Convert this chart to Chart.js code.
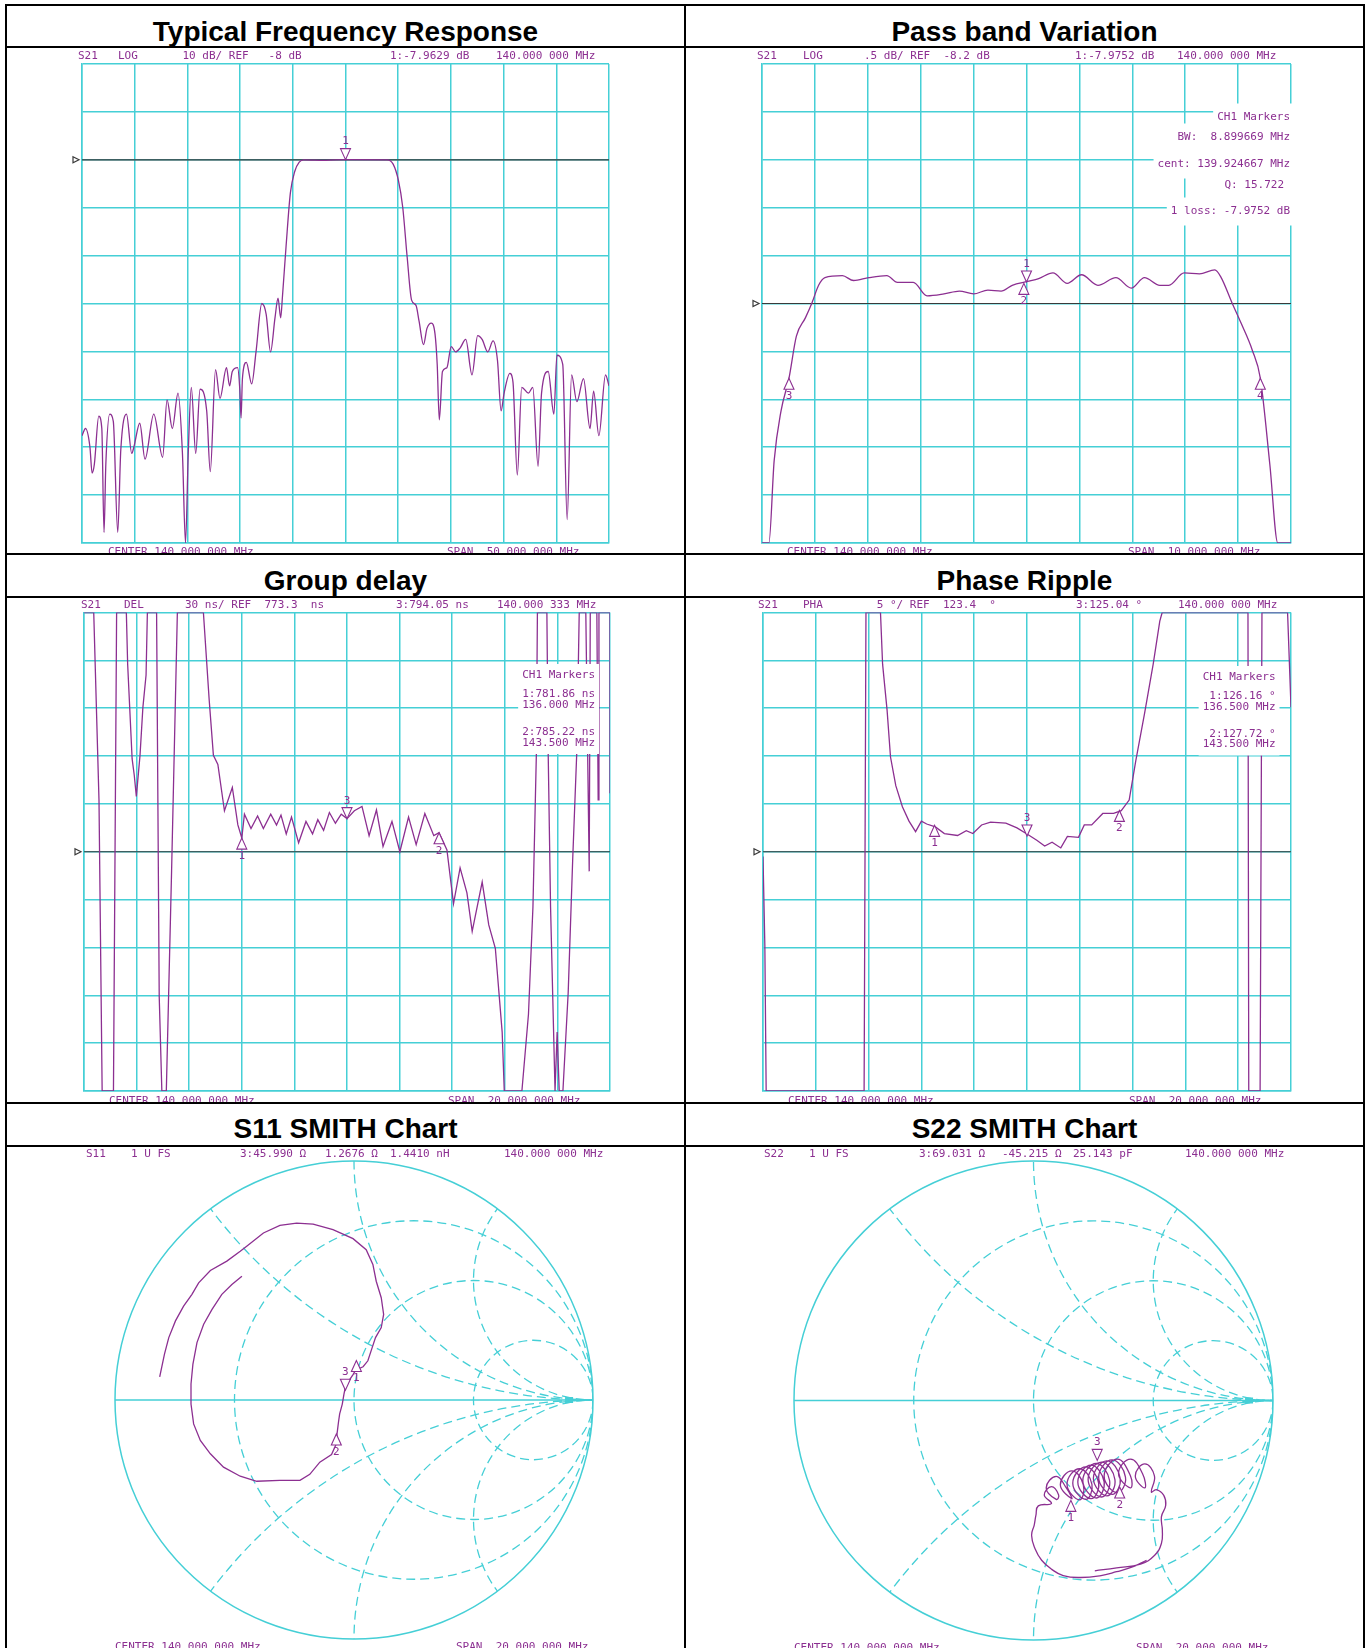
<!DOCTYPE html>
<html>
<head>
<meta charset="utf-8">
<script src="https://cdn.jsdelivr.net/npm/chart.js@4.4.1/dist/chart.umd.min.js"></script>
<style>
  html, body { margin: 0; padding: 0; background: #fff; }
  body { width: 1366px; height: 1648px; position: relative; overflow: hidden; }
  .ln { position: absolute; background: #000; }
  .title { position: absolute; width: 679px; text-align: center; font: bold 28px "Liberation Sans", Arial, sans-serif; line-height: 32px; color: #000; }
  canvas { position: absolute; }
</style>
</head>
<body>
<div class="ln" style="left:5px;top:4px;width:1360px;height:2px"></div>
<div class="ln" style="left:5px;top:46px;width:1360px;height:2px"></div>
<div class="ln" style="left:5px;top:553px;width:1360px;height:2px"></div>
<div class="ln" style="left:5px;top:596px;width:1360px;height:2px"></div>
<div class="ln" style="left:5px;top:1102px;width:1360px;height:2px"></div>
<div class="ln" style="left:5px;top:1145px;width:1360px;height:2px"></div>
<div class="ln" style="left:5px;top:4px;width:2px;height:1644px"></div>
<div class="ln" style="left:684px;top:4px;width:2px;height:1644px"></div>
<div class="ln" style="left:1363px;top:4px;width:2px;height:1644px"></div>

<div class="title" style="left:6px;top:16px">Typical Frequency Response</div>
<div class="title" style="left:685px;top:16px">Pass band Variation</div>
<div class="title" style="left:6px;top:565px">Group delay</div>
<div class="title" style="left:685px;top:565px">Phase Ripple</div>
<div class="title" style="left:6px;top:1113px">S11 SMITH Chart</div>
<div class="title" style="left:685px;top:1113px">S22 SMITH Chart</div>

<canvas id="c1" width="677" height="505" style="left:7px;top:48px"></canvas>
<canvas id="c2" width="677" height="505" style="left:686px;top:48px"></canvas>
<canvas id="c3" width="677" height="504" style="left:7px;top:598px"></canvas>
<canvas id="c4" width="677" height="504" style="left:686px;top:598px"></canvas>
<canvas id="c5" width="677" height="501" style="left:7px;top:1147px"></canvas>
<canvas id="c6" width="677" height="501" style="left:686px;top:1147px"></canvas>

<script>
// S21 wideband response, 115-165 MHz, dB
const respFreq = [115.00,115.33,115.75,115.96,116.17,116.59,116.88,117.09,117.26,117.63,117.97,118.39,118.68,119.22,119.72,119.93,120.48,120.98,121.81,122.65,123.07,123.57,124.11,124.53,124.82,125.08,125.37,125.79,126.20,126.83,127.17,127.67,128.09,128.71,129.00,129.26,129.76,129.97,130.09,130.22,130.59,131.10,131.51,132.06,132.47,132.89,133.31,133.60,133.85,134.02,134.36,134.77,135.19,135.61,136.03,138.10,140.00,143.97,144.52,145.02,145.43,145.85,146.27,146.69,146.98,147.40,147.73,148.15,148.49,148.70,148.90,149.20,149.62,150.03,150.45,150.87,151.41,152.00,152.54,152.96,153.50,154.00,154.42,154.76,155.05,155.59,155.89,156.30,156.72,157.35,157.77,158.27,158.60,159.23,159.77,160.06,160.61,161.03,161.45,161.95,162.58,163.20,163.54,164.04,164.67,165.00];
const respDb = [-65.6,-64.1,-67.9,-73.4,-71.6,-61.5,-64.1,-85.8,-71.6,-61.1,-62.6,-85.8,-68.6,-61.1,-69.3,-67.9,-63.0,-70.5,-61.1,-70.1,-58.1,-64.1,-56.7,-69.3,-88.0,-69.3,-55.5,-69.3,-55.9,-60.4,-73.1,-51.8,-57.8,-51.4,-55.2,-52.2,-51.4,-55.9,-61.9,-53.7,-50.3,-54.8,-48.1,-38.0,-40.2,-48.1,-41.0,-36.9,-41.0,-36.5,-26.1,-14.9,-10.4,-8.5,-8.0,-8.1,-7.96,-8.0,-8.9,-12.3,-17.9,-28.3,-37.3,-38.4,-41.7,-46.6,-43.2,-42.1,-44.3,-50.7,-62.3,-52.2,-51.4,-47.0,-48.1,-47.3,-45.5,-52.9,-44.7,-45.5,-48.1,-45.8,-49.9,-60.4,-56.7,-52.6,-54.4,-73.8,-55.5,-56.7,-55.5,-72.0,-56.7,-52.2,-61.1,-48.8,-50.7,-83.1,-52.9,-58.5,-53.7,-64.1,-56.3,-65.6,-52.9,-55.2];
const respMarkF = [140.0];
const respMarkV = [-7.9629];

// S21 pass band, 135-145 MHz, dB
const passFreq = [135.00,135.13,135.23,135.36,135.51,135.65,135.82,135.94,136.07,136.19,136.52,136.73,137.02,137.36,137.56,137.86,138.12,138.44,138.73,139.00,139.27,139.52,139.73,140.02,140.23,140.50,140.77,141.04,141.35,141.69,141.98,142.23,142.52,142.69,142.98,143.27,143.56,143.67,143.89,144.06,144.27,144.42,144.60,144.75,145.00];
const passDb = [-10.70,-10.70,-9.84,-9.32,-8.98,-8.54,-8.35,-8.20,-8.01,-7.93,-7.91,-7.96,-7.93,-7.91,-7.98,-7.98,-8.12,-8.10,-8.07,-8.10,-8.06,-8.07,-8.01,-7.97,-7.94,-7.88,-7.99,-7.90,-8.01,-7.93,-8.04,-7.93,-8.01,-8.01,-7.88,-7.89,-7.85,-7.92,-8.20,-8.41,-8.69,-8.98,-9.88,-10.70,-10.70];
const passMarkF = [140.0, 139.95, 135.51, 144.42];
const passMarkV = [-7.9752, -7.99, -8.98, -8.98];

// group delay, 130-150 MHz, ns
const delayFreq = [130.00,130.37,130.57,130.69,131.12,131.24,131.61,131.66,131.83,131.91,131.99,132.13,132.24,132.36,132.41,132.76,132.86,132.96,133.13,133.33,133.55,134.54,134.76,134.92,135.09,135.34,135.64,135.85,136.00,136.10,136.35,136.60,136.82,137.10,137.32,137.49,137.69,137.89,138.16,138.44,138.69,138.89,139.11,139.33,139.56,139.78,140.00,140.28,140.57,140.84,141.12,141.37,141.71,142.01,142.34,142.63,142.96,143.30,143.50,143.80,144.05,144.30,144.56,144.76,145.14,145.39,145.64,145.90,145.98,146.65,146.90,147.07,147.20,147.24,147.60,147.65,147.74,147.91,147.99,148.07,148.21,148.41,148.58,148.74,148.83,149.08,149.21,149.25,149.50,149.55,149.58,150.00,150.00];
const delayNs = [923.3,923.3,805.8,623.3,623.3,923.3,923.3,890.8,831.5,821.4,808.0,833.7,864.0,884.1,923.3,923.3,682.6,623.3,623.3,761.0,923.3,923.3,868.4,833.7,828.1,799.0,813.6,790.1,781.9,796.8,787.8,795.7,787.8,796.8,790.1,796.3,784.5,795.0,778.9,792.3,784.5,793.4,786.7,797.9,791.2,796.8,794.1,799.0,801.7,783.4,799.5,776.6,792.3,773.3,795.0,777.8,797.3,783.4,785.2,774.4,740.8,763.2,747.5,723.4,754.3,727.4,712.8,660.2,623.3,623.3,671.4,738.6,834.4,923.3,923.3,834.9,738.6,623.3,660.2,623.3,623.3,684.9,767.7,837.1,923.3,923.3,761.0,923.3,923.3,805.8,923.3,923.3,810.0];
const delayMarkF = [136.0, 140.0, 143.5];
const delayMarkV = [781.86, 794.05, 785.22];

// phase, 130-150 MHz, degrees
const phaseFreq = [130.00,130.07,130.12,133.83,133.90,134.45,134.53,134.70,134.83,135.03,135.28,135.53,135.78,136.00,136.20,136.53,136.87,137.37,137.70,137.95,138.28,138.62,139.20,139.62,140.03,140.37,140.67,140.95,141.28,141.53,141.95,142.17,142.45,142.87,143.28,143.57,143.87,144.12,144.45,144.78,145.03,145.12,148.37,148.40,148.83,148.90,149.87,150.00];
const phaseDeg = [122.9,113.6,98.4,98.4,148.4,148.4,143.0,138.2,133.3,130.3,128.1,126.6,125.5,126.6,126.3,126.0,125.3,125.1,125.6,125.3,126.2,126.5,126.4,125.9,125.2,124.6,124.0,124.4,123.8,125.0,124.9,126.2,126.2,127.4,127.4,127.7,128.8,132.9,137.8,143.0,147.5,148.4,148.4,98.4,98.4,148.4,148.4,138.5];
const phaseMarkF = [136.5, 140.0, 143.5];
const phaseMarkV = [126.16, 125.04, 127.72];

// reflection coefficients (real / imaginary)
const s11Re = [-0.469,-0.511,-0.553,-0.594,-0.629,-0.657,-0.674,-0.682,-0.682,-0.671,-0.643,-0.601,-0.546,-0.476,-0.407,-0.310,-0.226,-0.185,-0.143,-0.094,-0.074,-0.071,-0.065,-0.060,-0.049,-0.042,-0.035,-0.021,-0.004,0.007,0.038,0.058,0.076,0.090,0.114,0.124,0.114,0.093,0.079,0.051,-0.004,-0.088,-0.171,-0.240,-0.310,-0.379,-0.449,-0.476,-0.532,-0.601,-0.650,-0.678,-0.713,-0.747,-0.775,-0.793,-0.813];
const s11Im = [0.518,0.483,0.442,0.379,0.317,0.240,0.150,0.067,-0.017,-0.100,-0.169,-0.225,-0.281,-0.319,-0.340,-0.336,-0.336,-0.311,-0.260,-0.228,-0.183,-0.142,-0.093,-0.058,-0.017,0.025,0.060,0.081,0.106,0.125,0.139,0.164,0.219,0.261,0.303,0.358,0.428,0.497,0.567,0.629,0.675,0.713,0.736,0.740,0.731,0.699,0.643,0.622,0.581,0.542,0.490,0.442,0.393,0.331,0.261,0.192,0.097];
const s11MarkRe = [0.010, -0.036, -0.074];
const s11MarkIm = [0.165, 0.041, -0.142];

const s22Re = [0.256,0.347,0.447,0.506,0.534,0.538,0.534,0.552,0.544,0.513,0.492,
  0.505,0.465,0.425,0.465, 0.455,0.405,0.355,0.405, 0.405,0.350,0.295,0.350, 0.384,0.328,0.272,0.328,
  0.362,0.306,0.250,0.306, 0.340,0.284,0.228,0.284, 0.318,0.262,0.206,0.262, 0.295,0.240,0.185,0.240,
  0.272,0.218,0.164,0.218, 0.244,0.192,0.140,0.192, 0.208,0.160,0.112,0.160, 0.137,0.095,0.053,0.095,
  0.105,0.075,0.045,0.075,
  0.020,0.010,0.003,-0.008,0.006,0.034,0.076,0.124,0.194,0.277,0.347,0.416,0.472];
const s22Im = [-0.711,-0.699,-0.683,-0.646,-0.597,-0.542,-0.486,-0.438,-0.396,-0.372,-0.382,
  -0.315,-0.265,-0.315,-0.365, -0.305,-0.245,-0.305,-0.365, -0.315,-0.245,-0.315,-0.385, -0.320,-0.248,-0.320,-0.392,
  -0.325,-0.252,-0.325,-0.398, -0.330,-0.257,-0.330,-0.403, -0.335,-0.263,-0.335,-0.407, -0.340,-0.270,-0.340,-0.410,
  -0.345,-0.277,-0.345,-0.413, -0.350,-0.285,-0.350,-0.415, -0.352,-0.294,-0.352,-0.410, -0.365,-0.317,-0.365,-0.413,
  -0.395,-0.360,-0.395,-0.430,
  -0.440,-0.480,-0.520,-0.563,-0.618,-0.667,-0.705,-0.731,-0.739,-0.732,-0.715,-0.694,-0.667];
const s22MarkRe = [0.156, 0.266, 0.360];
const s22MarkIm = [-0.417, -0.250, -0.361];

// smith grid values
const resistanceCircles = [1/3, 1, 3];
const reactanceArcs = [0.5, 1, 2, -0.5, -1, -2];

const CYAN = '#45cfd6';
const PURPLE = '#8c2f91';
const MONO = '11px "DejaVu Sans Mono", monospace';

const nwaPlugin = {
  id: 'nwa',
  beforeDatasetsDraw(chart, args, o) {
    const { ctx, chartArea: a, scales: { x, y } } = chart;
    ctx.save();
    if (o.smith) {
      const cx = x.getPixelForValue(0), cy = y.getPixelForValue(0);
      const R = x.getPixelForValue(1) - cx;
      ctx.strokeStyle = CYAN;
      ctx.lineWidth = 1.5;
      ctx.beginPath(); ctx.arc(cx, cy, R, 0, Math.PI * 2); ctx.stroke();
      ctx.beginPath(); ctx.moveTo(cx - R, cy); ctx.lineTo(cx + R, cy); ctx.stroke();
      ctx.fillStyle = CYAN;
      ctx.fillRect(x.getPixelForValue(0.9) - 4, cy - 3, 8, 6);
      ctx.beginPath(); ctx.arc(cx, cy, R, 0, Math.PI * 2); ctx.clip();
      ctx.setLineDash([9, 5]);
      ctx.lineWidth = 1.3;
      resistanceCircles.forEach(r => {
        ctx.beginPath();
        ctx.arc(x.getPixelForValue(r / (1 + r)), cy, R / (1 + r), 0, Math.PI * 2);
        ctx.stroke();
      });
      reactanceArcs.forEach(xv => {
        ctx.beginPath();
        ctx.arc(x.getPixelForValue(1), y.getPixelForValue(1 / xv), R / Math.abs(xv), 0, Math.PI * 2);
        ctx.stroke();
      });
    } else {
      const ry = y.getPixelForValue(o.ref);
      ctx.strokeStyle = '#3a3a3a';
      ctx.lineWidth = 1.2;
      ctx.beginPath(); ctx.moveTo(a.left, ry); ctx.lineTo(a.right, ry); ctx.stroke();
      ctx.beginPath();
      ctx.moveTo(a.left - 9, ry - 3); ctx.lineTo(a.left - 3, ry); ctx.lineTo(a.left - 9, ry + 3); ctx.closePath();
      ctx.stroke();
    }
    ctx.restore();
  },
  afterDatasetsDraw(chart, args, o) {
    const { ctx, chartArea: a, scales: { x, y } } = chart;
    ctx.save();
    ctx.font = MONO;
    ctx.textBaseline = 'middle';
    if (o.box) {
      const b = o.box;
      ctx.textAlign = 'right';
      const rows = b.lines.map(([t, dy, dx]) => ({ t, tx: a.right + b.dx + (dx || 0), ty: a.top + dy, w: ctx.measureText(t).width }));
      const right = Math.max(...rows.map(r => r.tx)) + 4;
      ctx.fillStyle = '#fff';
      if (b.block) {
        const left = Math.min(...rows.map(r => r.tx - r.w)) - 4;
        ctx.fillRect(left, rows[0].ty - b.h / 2, right - left, rows[rows.length - 1].ty - rows[0].ty + b.h);
      } else {
        rows.forEach(r => ctx.fillRect(r.tx - r.w - 4, r.ty - b.h / 2, right - (r.tx - r.w - 4), b.h));
      }
      ctx.fillStyle = PURPLE;
      rows.forEach(r => ctx.fillText(r.t, r.tx, r.ty));
    }
    const pts = o.markX.map((mx, i) => ({ px: x.getPixelForValue(mx), py: y.getPixelForValue(o.markY[i]), s: o.markDir[i] === 'down' ? -1 : 1, label: o.markLabel[i] }));
    pts.forEach(p => {
      ctx.beginPath();
      ctx.moveTo(p.px, p.py);
      ctx.lineTo(p.px - 5, p.py + p.s * 11);
      ctx.lineTo(p.px + 5, p.py + p.s * 11);
      ctx.closePath();
      ctx.fillStyle = '#fff'; ctx.fill();
      ctx.strokeStyle = PURPLE; ctx.lineWidth = 1.1; ctx.stroke();
    });
    ctx.textAlign = 'center';
    ctx.fillStyle = PURPLE;
    pts.forEach(p => ctx.fillText(p.label, p.px, p.py + p.s * 18));
    ctx.restore();
  },
  afterDraw(chart, args, o) {
    const { ctx, chartArea: a } = chart;
    ctx.save();
    ctx.font = MONO;
    ctx.fillStyle = PURPLE;
    ctx.textAlign = 'left';
    ctx.textBaseline = 'middle';
    o.head.forEach(([dx, t]) => ctx.fillText(t, a.left + dx, a.top - o.headDy));
    ctx.textBaseline = 'top';
    o.foot.forEach(([dx, t]) => ctx.fillText(t, a.left + dx, a.bottom + o.footDy));
    ctx.restore();
  }
};

function gridScale([min, max]) {
  return {
    type: 'linear', min, max,
    afterBuildTicks: axis => { axis.ticks = Array.from({ length: 11 }, (_, i) => ({ value: min + (max - min) * i / 10 })); },
    ticks: { display: false },
    grid: { color: CYAN, lineWidth: 1.5, drawTicks: false },
    border: { color: CYAN, width: 1.5 }
  };
}

function hiddenScale() {
  return { type: 'linear', min: -1, max: 1, display: false };
}

function makeChart(id, xs, ys, scales, pad, nwa, lineOpts) {
  return new Chart(document.getElementById(id), {
    type: 'scatter',
    data: {
      datasets: [Object.assign({
        data: xs.map((v, i) => ({ x: v, y: ys[i] })),
        showLine: true,
        borderColor: PURPLE,
        borderWidth: 1.3,
        pointRadius: 0
      }, lineOpts || {})]
    },
    options: {
      responsive: false,
      animation: false,
      devicePixelRatio: 1,
      layout: { padding: pad },
      scales,
      plugins: { legend: { display: false }, tooltip: { enabled: false }, nwa }
    },
    plugins: [nwaPlugin]
  });
}

makeChart('c1', respFreq, respDb, { x: gridScale([115, 165]), y: gridScale([-88, 12]) },
  { left: 75, right: 75, top: 16, bottom: 10 },
  {
    ref: -8, headDy: 7.5, footDy: 3.5,
    head: [[-4, 'S21'], [36, 'LOG'], [100.5, '10 dB/ REF   -8 dB'], [308, '1:-7.9629 dB'], [414, '140.000 000 MHz']],
    foot: [[26, 'CENTER 140.000 000 MHz'], [365, 'SPAN  50.000 000 MHz']],
    markX: respMarkF, markY: respMarkV, markDir: ['down'], markLabel: ['1']
  }, { cubicInterpolationMode: 'monotone' });

makeChart('c2', passFreq, passDb, { x: gridScale([135, 145]), y: gridScale([-10.7, -5.7]) },
  { left: 76, right: 72, top: 16, bottom: 10 },
  {
    ref: -8.2, headDy: 7.5, footDy: 3.5,
    head: [[-5, 'S21'], [41, 'LOG'], [102, '.5 dB/ REF  -8.2 dB'], [313, '1:-7.9752 dB'], [415, '140.000 000 MHz']],
    foot: [[25, 'CENTER 140.000 000 MHz'], [366, 'SPAN  10.000 000 MHz']],
    box: { dx: -1, h: 28, lines: [['CH1 Markers', 53.5], ['BW:  8.899669 MHz', 73.5], ['cent: 139.924667 MHz', 100.5], ['Q: 15.722', 121, -6], ['1 loss: -7.9752 dB', 147.5]] },
    markX: passMarkF, markY: passMarkV, markDir: ['down', 'up', 'up', 'up'], markLabel: ['1', '2', '3', '4']
  }, { cubicInterpolationMode: 'monotone' });

makeChart('c3', delayFreq, delayNs, { x: gridScale([130, 150]), y: gridScale([623.3, 923.3]) },
  { left: 77, right: 74, top: 14.5, bottom: 11 },
  {
    ref: 773.3, headDy: 7.5, footDy: 5,
    head: [[-3, 'S21'], [40, 'DEL'], [101, '30 ns/ REF  773.3  ns'], [312, '3:794.05 ns'], [413, '140.000 333 MHz']],
    foot: [[25, 'CENTER 140.000 000 MHz'], [364, 'SPAN  20.000 000 MHz']],
    box: { dx: -15, h: 22, block: true, lines: [['CH1 Markers', 62.5], ['1:781.86 ns', 81.5], ['136.000 MHz', 92.5], ['2:785.22 ns', 119.5], ['143.500 MHz', 130.5]] },
    markX: delayMarkF, markY: delayMarkV, markDir: ['up', 'down', 'up'], markLabel: ['1', '3', '2']
  });

makeChart('c4', phaseFreq, phaseDeg, { x: gridScale([130, 150]), y: gridScale([98.4, 148.4]) },
  { left: 77, right: 72, top: 14.5, bottom: 11 },
  {
    ref: 123.4, headDy: 7.5, footDy: 5,
    head: [[-5, 'S21'], [40, 'PHA'], [100.5, '  5 °/ REF  123.4  °'], [313, '3:125.04 °'], [415, '140.000 000 MHz']],
    foot: [[25, 'CENTER 140.000 000 MHz'], [366, 'SPAN  20.000 000 MHz']],
    box: { dx: -15.5, h: 22, block: true, lines: [['CH1 Markers', 64.5], ['1:126.16 °', 83.5], ['136.500 MHz', 94.5], ['2:127.72 °', 122], ['143.500 MHz', 132]] },
    markX: phaseMarkF, markY: phaseMarkV, markDir: ['up', 'down', 'up'], markLabel: ['1', '3', '2']
  });

makeChart('c5', s11Re, s11Im, { x: hiddenScale(), y: hiddenScale() },
  { left: 108, right: 91, top: 14, bottom: 9 },
  {
    smith: true, headDy: 6.5, footDy: 3,
    head: [[-29, 'S11'], [16, '1 U FS'], [125, '3:45.990 Ω'], [210, '1.2676 Ω'], [275, '1.4410 nH'], [389, '140.000 000 MHz']],
    foot: [[0, 'CENTER 140.000 000 MHz'], [341, 'SPAN  20.000 000 MHz']],
    markX: s11MarkRe, markY: s11MarkIm, markDir: ['up', 'down', 'up'], markLabel: ['1', '3', '2']
  });

makeChart('c6', s22Re, s22Im, { x: hiddenScale(), y: hiddenScale() },
  { left: 108, right: 90, top: 14, bottom: 8 },
  {
    smith: true, headDy: 6.5, footDy: 3,
    head: [[-30, 'S22'], [15, '1 U FS'], [125, '3:69.031 Ω'], [208, '-45.215 Ω'], [279, '25.143 pF'], [391, '140.000 000 MHz']],
    foot: [[0, 'CENTER 140.000 000 MHz'], [342, 'SPAN  20.000 000 MHz']],
    markX: s22MarkRe, markY: s22MarkIm, markDir: ['up', 'down', 'up'], markLabel: ['1', '3', '2']
  }, { tension: 0.45 });
</script>
</body>
</html>
